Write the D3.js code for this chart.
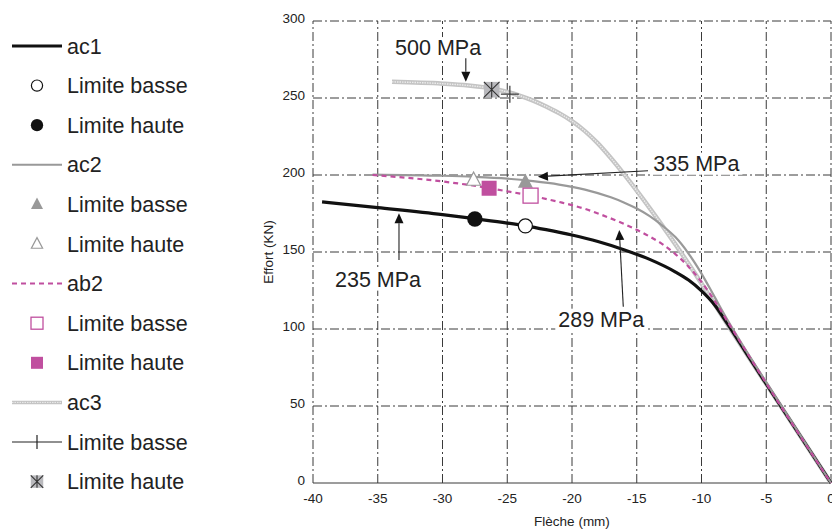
<!DOCTYPE html>
<html><head><meta charset="utf-8">
<script src="https://cdn.jsdelivr.net/npm/d3@7/dist/d3.min.js"></script>
<style>body{margin:0;background:#fff}svg{display:block;font-family:"Liberation Sans",Arial,sans-serif}</style>
</head><body><svg id="c" width="832" height="531"></svg>
<script>
// ---- data ----
const xTicks = [-40,-35,-30,-25,-20,-15,-10,-5,0];
const yTicks = [0,50,100,150,200,250,300];
const xLabel = "Flèche (mm)";
const yLabel = "Effort (KN)";
const seriesNames = ["ac1","ac2","ab2","ac3"];
const ac1 = [[-39.3,182.5],[-35,178.8],[-30,174.3],[-27.5,171.6],[-25,168.8],[-23.6,167],[-22,164.5],[-20,161],[-18,156.8],[-16,151.5],[-14,145.2],[-12,137],[-11,131.8],[-10,124.8],[-9,115.8],[-8,103.5],[-7,90.5],[-6,77.3],[-5,64.3],[0,0]];
const ac2 = [[-35.4,200.3],[-30,199.5],[-27.6,198.8],[-25,197.6],[-23,196],[-21,193.8],[-19,190.5],[-17,185.5],[-16,182.2],[-15,178.2],[-14,173.3],[-13,167],[-12,159.5],[-11,149],[-10,136],[-9,121],[-8,106],[-7,92],[-6,78.5],[-5,65.3],[0,0]];
const ab2 = [[-35.4,200],[-32,197.6],[-30,195.8],[-28,193.6],[-26.4,191.5],[-25,189.4],[-23.2,186.6],[-21,182.5],[-19,178],[-17.8,174.4],[-16,168.3],[-14,160],[-13,155],[-12,148.5],[-11,140.5],[-10,130.5],[-9,118.5],[-8,105],[-7,91.5],[-6,78],[0,0]];
const ac3 = [[-33.9,260.5],[-30,259.3],[-28,258.1],[-26.2,256.2],[-25,253.9],[-24,251.4],[-23,248.3],[-22,244.5],[-21,240.2],[-20,235],[-19,228.5],[-18,220.5],[-17,211],[-16,200.7],[-15,189.8],[-14,178.5],[-13,166.8],[-12,154.8],[-11,142.4],[-10,129.6],[-9,116.3],[-8,103],[-7,90],[0,0]];
// limit points: [x, y]
const ac1Basse = [-23.6,166.9], ac1Haute = [-27.5,171.4];
const ac2Basse = [-23.6,195.4], ac2Haute = [-27.6,196.8];
const ab2Basse = [-23.2,186.6], ab2Haute = [-26.4,191.4];
const ac3Basse = [-24.8,252.5], ac3Haute = [-26.2,255.4];
const legendLabels = ["ac1","Limite basse","Limite haute","ac2","Limite basse","Limite haute","ab2","Limite basse","Limite haute","ac3","Limite basse","Limite haute"];
// annotations: text, text anchor [x,y], arrow tail, arrow tip (data units)
const annTexts = ["500 MPa","335 MPa","235 MPa","289 MPa"];
const annPos  = [[-33.66,277.9],[-13.72,202.8],[-38.3,127.5],[-21.06,101.5]];
const annTail = [[-28.2,275.8],[-14.13,202.8],[-33.36,144.8],[-16.04,114.5]];
const annTip  = [[-28.2,260.6],[-22.63,198.9],[-33.36,175.1],[-16.35,164.3]];

// ---- drawing ----
const svg = d3.select("#c");
const x = d3.scaleLinear().domain([-40,0]).range([313,831]);
const y = d3.scaleLinear().domain([0,300]).range([483,21]);
const MAG = "#c04f9f", GR = "#999999", GRID = "#3a3a3a";
const dashDot = "9,3,2,3";

// grid
const g = svg.append("g");
g.selectAll("line.v").data(xTicks).join("line")
  .attr("x1",d=>x(d)).attr("x2",d=>x(d)).attr("y1",y(0)).attr("y2",y(300))
  .attr("stroke",GRID).attr("stroke-width",1).attr("stroke-dasharray",dashDot);
g.selectAll("line.h").data(yTicks).join("line")
  .attr("x1",x(-40)).attr("x2",x(0)).attr("y1",d=>y(d)).attr("y2",d=>y(d))
  .attr("stroke",GRID).attr("stroke-width",1).attr("stroke-dasharray",d=>d===0?null:dashDot);

// tick labels
svg.append("g").selectAll("text").data(yTicks).join("text")
  .attr("x",x(-40)-8).attr("y",d=>y(d)+2).attr("text-anchor","end")
  .attr("font-size",13.5).attr("fill","#222").text(d=>d);
svg.append("g").selectAll("text").data(xTicks).join("text")
  .attr("x",d=>x(d)).attr("y",y(0)+20).attr("text-anchor","middle")
  .attr("font-size",13.5).attr("fill","#222").text(d=>d);
svg.append("text").attr("x",(x(-40)+x(0))/2).attr("y",526).attr("text-anchor","middle")
  .attr("font-size",13.5).attr("fill","#222").text(xLabel);
svg.append("text").attr("transform",`translate(273,${(y(0)+y(300))/2}) rotate(-90)`)
  .attr("text-anchor","middle").attr("font-size",13.5).attr("fill","#222").text(yLabel);

// lines
const line = d3.line().x(d=>x(d[0])).y(d=>y(d[1])).curve(d3.curveMonotoneX);
const lg = svg.append("g").attr("fill","none");
lg.append("path").attr("d",line(ac3)).attr("stroke","#c4c4c4").attr("stroke-width",4.5);
lg.append("path").attr("d",line(ac3)).attr("stroke","#ececec").attr("stroke-width",1.4).attr("stroke-dasharray","1.5,1");
lg.append("path").attr("d",line(ac1)).attr("stroke","#111").attr("stroke-width",3.2);
lg.append("path").attr("d",line(ac2)).attr("stroke",GR).attr("stroke-width",2.2);
lg.append("path").attr("d",line(ab2)).attr("stroke",MAG).attr("stroke-width",2.2).attr("stroke-dasharray","5,4");

// markers
function tri(s){ const h=s*0.95; return `M0,${-h*0.6}L${s/2},${h*0.4}L${-s/2},${h*0.4}Z`; }
function drawMarker(parent, kind, cx, cy, k){
  const m = parent.append("g").attr("transform",`translate(${cx},${cy})`);
  if(kind==="circOpen") m.append("circle").attr("r",7*k).attr("fill","#fff").attr("stroke","#111").attr("stroke-width",1.2);
  if(kind==="circFill") m.append("circle").attr("r",7.7*k).attr("fill","#111");
  if(kind==="triFill") m.append("path").attr("d",tri(15*k)).attr("fill",GR);
  if(kind==="triOpen") m.append("path").attr("d",tri(14*k)).attr("fill","#fff").attr("stroke",GR).attr("stroke-width",1.2);
  if(kind==="sqOpen") m.append("rect").attr("x",-7.5*k).attr("y",-7.5*k).attr("width",15*k).attr("height",15*k).attr("fill","#fff").attr("stroke",MAG).attr("stroke-width",1.3);
  if(kind==="sqFill") m.append("rect").attr("x",-7.5*k).attr("y",-7.5*k).attr("width",15*k).attr("height",15*k).attr("fill",MAG);
  if(kind==="plus"){
    m.append("line").attr("x1",-9*k).attr("x2",9*k).attr("stroke","#444").attr("stroke-width",1.3);
    m.append("line").attr("y1",-8.5*k).attr("y2",8.5*k).attr("stroke","#444").attr("stroke-width",1.3);
  }
  if(kind==="xsq"){
    const s=7.8*k;
    m.append("rect").attr("x",-s).attr("y",-s).attr("width",2*s).attr("height",2*s).attr("fill","#b9b9bd");
    m.append("path").attr("d",`M${-s},${-s}L${s},${s}M${s},${-s}L${-s},${s}M0,${-s}L0,${s}`).attr("stroke","#333").attr("stroke-width",1.1);
  }
  return m;
}
const mk = svg.append("g");
drawMarker(mk,"circFill",x(ac1Haute[0]),y(ac1Haute[1]),1);
drawMarker(mk,"circOpen",x(ac1Basse[0]),y(ac1Basse[1]),1);
drawMarker(mk,"triOpen",x(ac2Haute[0]),y(ac2Haute[1]),1);
drawMarker(mk,"triFill",x(ac2Basse[0]),y(ac2Basse[1]),1);
drawMarker(mk,"sqFill",x(ab2Haute[0]),y(ab2Haute[1]),1);
drawMarker(mk,"sqOpen",x(ab2Basse[0]),y(ab2Basse[1]),1);
drawMarker(mk,"xsq",x(ac3Haute[0]),y(ac3Haute[1]),1);
drawMarker(mk,"plus",x(ac3Basse[0]),y(ac3Basse[1]),1);

// annotations
const an = svg.append("g");
annTexts.forEach((t,i)=>{
  const tx = an.append("text").attr("x",x(annPos[i][0])).attr("y",y(annPos[i][1]))
    .attr("font-size",21.5).attr("fill","#222").text(t);
  const bb = tx.node().getBBox();
  an.insert("rect","text").attr("x",bb.x-3).attr("y",bb.y+1).attr("width",bb.width+6).attr("height",bb.height-2).attr("fill","#fff");
});
annTexts.forEach((t,i)=>{
  const x1=x(annTail[i][0]), y1=y(annTail[i][1]), x2=x(annTip[i][0]), y2=y(annTip[i][1]);
  const ang=Math.atan2(y2-y1,x2-x1), L=10, W=4.5;
  const bx=x2-L*Math.cos(ang), by=y2-L*Math.sin(ang);
  an.append("line").attr("x1",x1).attr("y1",y1).attr("x2",bx).attr("y2",by).attr("stroke","#222").attr("stroke-width",1.1);
  an.append("path").attr("d",`M${x2},${y2}L${bx+W*Math.sin(ang)},${by-W*Math.cos(ang)}L${bx-W*Math.sin(ang)},${by+W*Math.cos(ang)}Z`).attr("fill","#111");
});

// legend
const lgd = svg.append("g");
const rowY = i=>46+39.6*i;
const kinds = ["line1","circOpen","circFill","line2","triFill","triOpen","line3","sqOpen","sqFill","line4","plusline","xsq"];
kinds.forEach((k,i)=>{
  const yy=rowY(i);
  if(k==="line1") lgd.append("line").attr("x1",12).attr("x2",62).attr("y1",yy).attr("y2",yy).attr("stroke","#111").attr("stroke-width",3);
  else if(k==="line2") lgd.append("line").attr("x1",12).attr("x2",62).attr("y1",yy).attr("y2",yy).attr("stroke",GR).attr("stroke-width",2);
  else if(k==="line3") lgd.append("line").attr("x1",12).attr("x2",62).attr("y1",yy).attr("y2",yy).attr("stroke",MAG).attr("stroke-width",2).attr("stroke-dasharray","5,4");
  else if(k==="line4"){
    lgd.append("line").attr("x1",12).attr("x2",62).attr("y1",yy).attr("y2",yy).attr("stroke","#c4c4c4").attr("stroke-width",3.5);
    lgd.append("line").attr("x1",12).attr("x2",62).attr("y1",yy).attr("y2",yy).attr("stroke","#ececec").attr("stroke-width",1).attr("stroke-dasharray","1.5,1");
  }
  else if(k==="plusline"){
    lgd.append("line").attr("x1",12).attr("x2",62).attr("y1",yy).attr("y2",yy).attr("stroke","#222").attr("stroke-width",1.2);
    lgd.append("line").attr("x1",37).attr("x2",37).attr("y1",yy-7).attr("y2",yy+7).attr("stroke","#222").attr("stroke-width",1.2);
  }
  else drawMarker(lgd,k,37,yy,0.8);
  lgd.append("text").attr("x",67).attr("y",yy+7.5).attr("font-size",21.5).attr("fill","#222").text(legendLabels[i]);
});
</script></body></html>
